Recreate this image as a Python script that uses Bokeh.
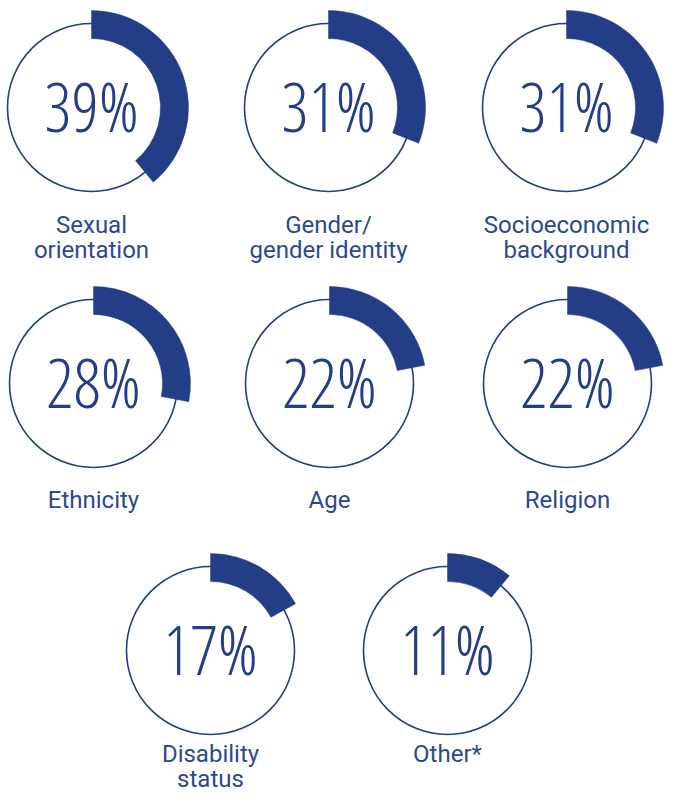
import math
from bokeh.plotting import figure
from bokeh.embed import file_html
from bokeh.resources import INLINE
from bokeh.models import Range1d, ColumnDataSource
from bokeh.core.properties import value

# ---- data ----
categories = ["Sexual\norientation", "Gender/\ngender identity", "Socioeconomic\nbackground",
              "Ethnicity", "Age", "Religion",
              "Disability\nstatus", "Other*"]
percentages = [39, 31, 31, 28, 22, 22, 17, 11]

# ---- layout (picture pixels; y measured from top) ----
centers_x = [91, 328, 566, 93, 329, 567, 210, 447]
centers_y = [107, 107, 107, 383, 383, 383, 650, 650]
label_base = [232, 232, 232, 507, 507, 507, 761, 761]   # baseline of first label line
LINE_GAP = 25

W, H = 664, 793
ARC = "#233e87"
LABEL = "#2c4990"

p = figure(width=W, height=H, output_backend="svg", toolbar_location=None,
           x_range=Range1d(0, W), y_range=Range1d(0, H),
           min_border=0, outline_line_color=None)
p.axis.visible = False
p.grid.visible = False
p.background_fill_color = "white"
p.border_fill_color = "white"

FS = 68
PCT_SHIFT = 28.3 - 26     # renderer places glyph bottoms below the requested baseline
LBL_SHIFT = 8

cy = [H - y for y in centers_y]
ends = [math.pi / 2 - v / 100 * 2 * math.pi for v in percentages]
src = ColumnDataSource(dict(x=centers_x, y=cy, end=ends,
                            ty=[c + PCT_SHIFT for c in cy],
                            pct=[f"{v}%" for v in percentages]))

p.circle(x="x", y="y", radius=84, source=src, fill_color=None,
         line_color=ARC, line_width=1.6)
p.annular_wedge(x="x", y="y", inner_radius=69, outer_radius=97,
                start_angle=math.pi / 2, end_angle="end", direction="clock",
                source=src, fill_color=ARC, line_color=ARC, line_width=0.5)

p.text(x="x", y="ty", text="pct", source=src,
       text_font=value("Open Sans Condensed Light"), text_font_size=f"{FS}px",
       text_color=ARC, text_align="center", text_baseline="alphabetic")

lx, ly, lt = [], [], []
for cat, x, b in zip(categories, centers_x, label_base):
    for i, line in enumerate(cat.split("\n")):
        lx.append(x)
        ly.append(H - (b + i * LINE_GAP) + LBL_SHIFT)
        lt.append(line)
p.text(x=lx, y=ly, text=lt, text_font=value("Roboto"), text_font_size="24px",
       text_color=LABEL, text_align="center", text_baseline="alphabetic")

open("out.html", "w").write(file_html(p, INLINE))
